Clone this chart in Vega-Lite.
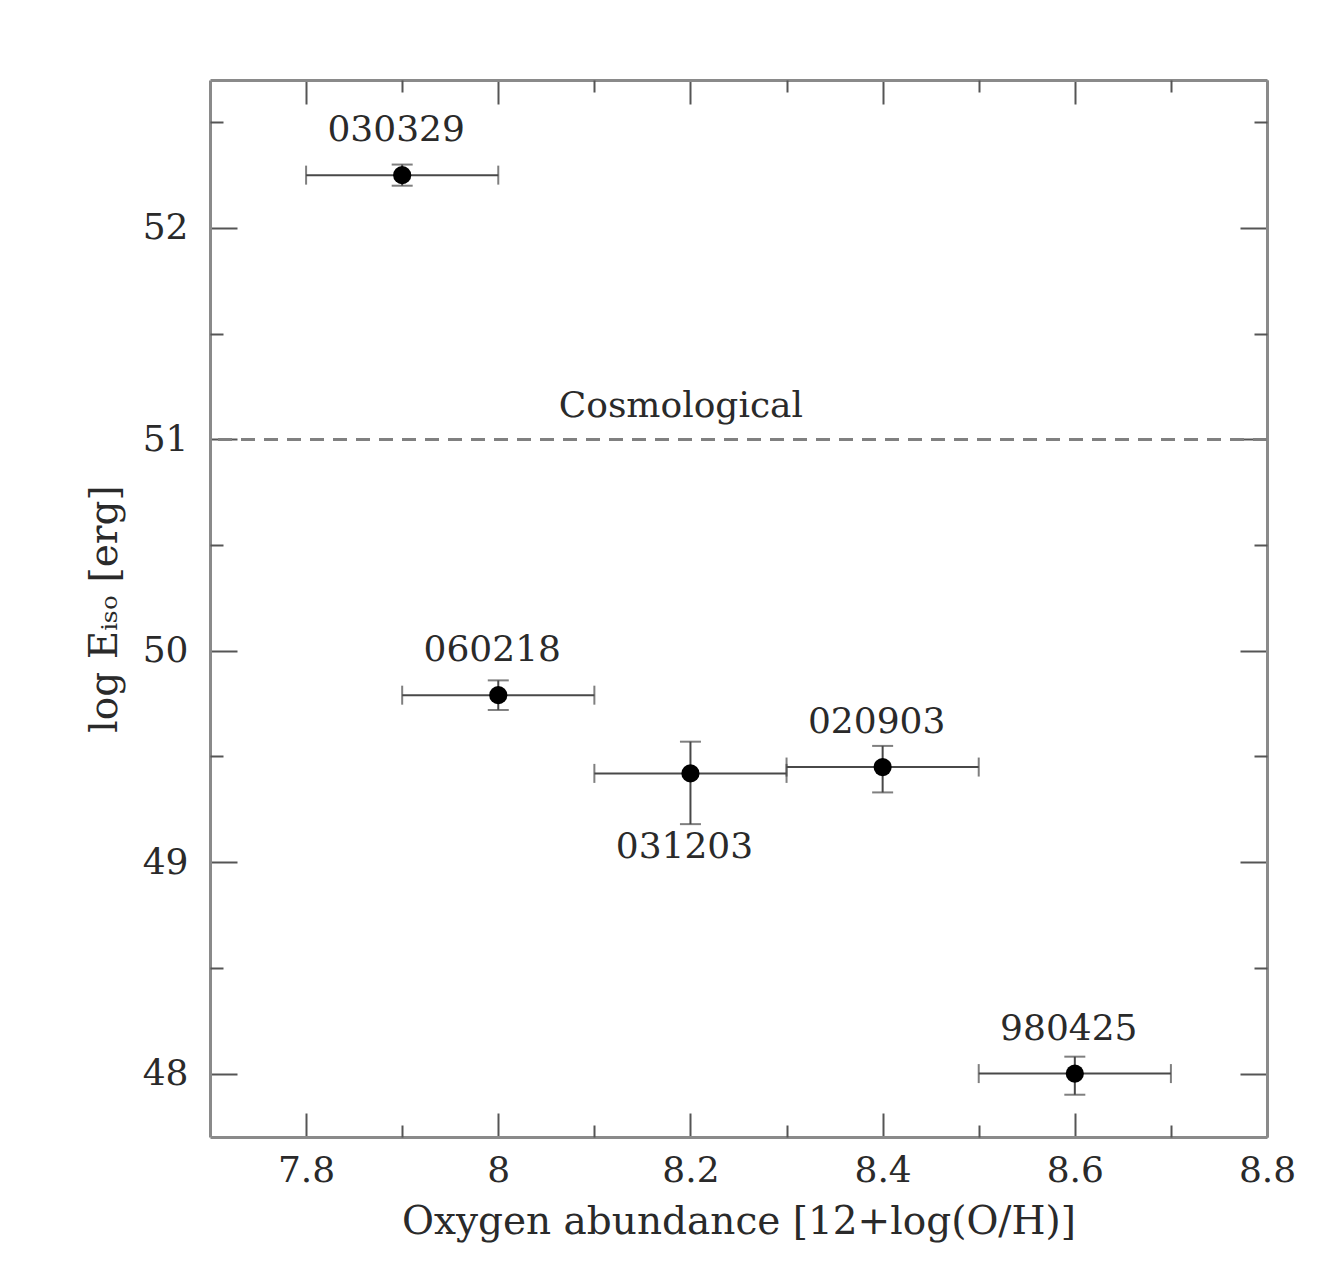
{
  "$schema": "https://vega.github.io/schema/vega-lite/v6.json",
  "autosize": {"type": "none"},
  "padding": {"left": 210, "top": 80, "right": 52, "bottom": 133},
  "width": 1057,
  "height": 1057,
  "background": "white",
  "config": {
    "view": {"stroke": null},
    "font": "DejaVu Serif",
    "axis": {
      "labelFont": "DejaVu Serif",
      "labelFontSize": 36,
      "labelColor": "#2a2a2a",
      "titleFont": "DejaVu Serif",
      "titleFontWeight": "normal",
      "titleColor": "#2a2a2a",
      "grid": false,
      "labelFlush": false,
      "labelOverlap": false,
      "labelBound": false,
      "tickColor": "#555555",
      "tickWidth": 2,
      "domainColor": "#8a8a8a",
      "domainWidth": 3
    }
  },
  "datasets": {
    "grb": [
      {"grb": "030329", "oh": 7.9, "ohlo": 7.8, "ohhi": 8.0, "e": 52.25, "elo": 52.2, "ehi": 52.3, "pos": "above"},
      {"grb": "060218", "oh": 8.0, "ohlo": 7.9, "ohhi": 8.1, "e": 49.79, "elo": 49.72, "ehi": 49.86, "pos": "above"},
      {"grb": "031203", "oh": 8.2, "ohlo": 8.1, "ohhi": 8.3, "e": 49.42, "elo": 49.18, "ehi": 49.57, "pos": "below"},
      {"grb": "020903", "oh": 8.4, "ohlo": 8.3, "ohhi": 8.5, "e": 49.45, "elo": 49.33, "ehi": 49.55, "pos": "above"},
      {"grb": "980425", "oh": 8.6, "ohlo": 8.5, "ohhi": 8.7, "e": 48.0, "elo": 47.9, "ehi": 48.08, "pos": "above"}
    ],
    "ref": [
      {"label": "Cosmological", "x": 8.19, "y": 51}
    ]
  },
  "resolve": {"axis": {"x": "independent", "y": "independent"}},
  "layer": [
    {
      "data": {"name": "grb"},
      "mark": {"type": "rule", "color": "#484848", "strokeWidth": 2},
      "encoding": {
        "x": {"field": "ohlo", "type": "quantitative", "scale": {"domain": [7.7, 8.8], "zero": false, "nice": false},
          "axis": {"orient": "bottom", "values": [7.8, 8.0, 8.2, 8.4, 8.6, 8.8], "format": "~g", "tickSize": -24, "labelPadding": 40,
            "title": "Oxygen abundance [12+log(O/H)]", "titleFontSize": 39, "titlePadding": 14}},
        "x2": {"field": "ohhi"},
        "y": {"field": "e", "type": "quantitative", "scale": {"domain": [47.7, 52.7], "zero": false, "nice": false},
          "axis": {"orient": "left", "values": [48, 49, 50, 51, 52], "format": "d", "tickSize": -27, "labelPadding": 49,
            "title": "log Eᵢₛₒ [erg]", "titleFontSize": 39, "titlePadding": 18}}
      }
    },
    {
      "data": {"name": "grb"},
      "mark": {"type": "rule", "color": "#484848", "strokeWidth": 2},
      "encoding": {
        "x": {"field": "oh", "type": "quantitative", "scale": {"domain": [7.7, 8.8], "zero": false, "nice": false},
          "axis": {"orient": "bottom", "values": [7.9, 8.1, 8.3, 8.5, 8.7], "labels": false, "domain": false, "tickSize": -12, "title": null}},
        "y": {"field": "elo", "type": "quantitative", "scale": {"domain": [47.7, 52.7], "zero": false, "nice": false},
          "axis": {"orient": "left", "values": [48.5, 49.5, 50.5, 51.5, 52.5], "labels": false, "domain": false, "tickSize": -13, "title": null}},
        "y2": {"field": "ehi"}
      }
    },
    {
      "data": {"name": "grb"},
      "mark": {"type": "tick", "orient": "vertical", "color": "#484848", "size": 19, "thickness": 2},
      "encoding": {
        "x": {"field": "ohlo", "type": "quantitative", "scale": {"domain": [7.7, 8.8], "zero": false, "nice": false},
          "axis": {"orient": "top", "values": [7.8, 8.0, 8.2, 8.4, 8.6, 8.8], "labels": false, "tickSize": -24, "title": null}},
        "y": {"field": "e", "type": "quantitative", "scale": {"domain": [47.7, 52.7], "zero": false, "nice": false},
          "axis": {"orient": "right", "values": [48, 49, 50, 51, 52], "labels": false, "tickSize": -27, "title": null}}
      }
    },
    {
      "data": {"name": "grb"},
      "mark": {"type": "tick", "orient": "vertical", "color": "#484848", "size": 19, "thickness": 2},
      "encoding": {
        "x": {"field": "ohhi", "type": "quantitative", "scale": {"domain": [7.7, 8.8], "zero": false, "nice": false},
          "axis": {"orient": "top", "values": [7.9, 8.1, 8.3, 8.5, 8.7], "labels": false, "domain": false, "tickSize": -12, "title": null}},
        "y": {"field": "e", "type": "quantitative", "scale": {"domain": [47.7, 52.7], "zero": false, "nice": false},
          "axis": {"orient": "right", "values": [48.5, 49.5, 50.5, 51.5, 52.5], "labels": false, "domain": false, "tickSize": -13, "title": null}}
      }
    },
    {
      "data": {"name": "grb"},
      "mark": {"type": "tick", "orient": "horizontal", "color": "#484848", "size": 21, "thickness": 2},
      "encoding": {
        "x": {"field": "oh", "type": "quantitative", "scale": {"domain": [7.7, 8.8], "zero": false, "nice": false}, "axis": null},
        "y": {"field": "elo", "type": "quantitative", "scale": {"domain": [47.7, 52.7], "zero": false, "nice": false}, "axis": null}
      }
    },
    {
      "data": {"name": "grb"},
      "mark": {"type": "tick", "orient": "horizontal", "color": "#484848", "size": 21, "thickness": 2},
      "encoding": {
        "x": {"field": "oh", "type": "quantitative", "scale": {"domain": [7.7, 8.8], "zero": false, "nice": false}, "axis": null},
        "y": {"field": "ehi", "type": "quantitative", "scale": {"domain": [47.7, 52.7], "zero": false, "nice": false}, "axis": null}
      }
    },
    {
      "data": {"name": "ref"},
      "mark": {"type": "rule", "color": "#808080", "strokeWidth": 3, "strokeDash": [14, 9]},
      "encoding": {
        "y": {"field": "y", "type": "quantitative", "scale": {"domain": [47.7, 52.7], "zero": false, "nice": false}, "axis": null}
      }
    },
    {
      "data": {"name": "ref"},
      "mark": {"type": "text", "font": "DejaVu Serif", "fontSize": 36, "color": "#2a2a2a", "baseline": "middle", "dy": -33},
      "encoding": {
        "x": {"field": "x", "type": "quantitative", "scale": {"domain": [7.7, 8.8], "zero": false, "nice": false}, "axis": null},
        "y": {"field": "y", "type": "quantitative", "scale": {"domain": [47.7, 52.7], "zero": false, "nice": false}, "axis": null},
        "text": {"field": "label"}
      }
    },
    {
      "data": {"name": "grb"},
      "mark": {"type": "point", "shape": "circle", "filled": true, "color": "black", "opacity": 1, "size": 330},
      "encoding": {
        "x": {"field": "oh", "type": "quantitative", "scale": {"domain": [7.7, 8.8], "zero": false, "nice": false}, "axis": null},
        "y": {"field": "e", "type": "quantitative", "scale": {"domain": [47.7, 52.7], "zero": false, "nice": false}, "axis": null}
      }
    },
    {
      "data": {"name": "grb"},
      "transform": [{"filter": "datum.pos === 'above'"}],
      "mark": {"type": "text", "font": "DejaVu Serif", "fontSize": 36, "color": "#2a2a2a", "baseline": "middle", "dy": -45, "dx": -6},
      "encoding": {
        "x": {"field": "oh", "type": "quantitative", "scale": {"domain": [7.7, 8.8], "zero": false, "nice": false}, "axis": null},
        "y": {"field": "e", "type": "quantitative", "scale": {"domain": [47.7, 52.7], "zero": false, "nice": false}, "axis": null},
        "text": {"field": "grb"}
      }
    },
    {
      "data": {"name": "grb"},
      "transform": [{"filter": "datum.pos === 'below'"}],
      "mark": {"type": "text", "font": "DejaVu Serif", "fontSize": 36, "color": "#2a2a2a", "baseline": "middle", "dy": 74, "dx": -6},
      "encoding": {
        "x": {"field": "oh", "type": "quantitative", "scale": {"domain": [7.7, 8.8], "zero": false, "nice": false}, "axis": null},
        "y": {"field": "e", "type": "quantitative", "scale": {"domain": [47.7, 52.7], "zero": false, "nice": false}, "axis": null},
        "text": {"field": "grb"}
      }
    }
  ]
}
